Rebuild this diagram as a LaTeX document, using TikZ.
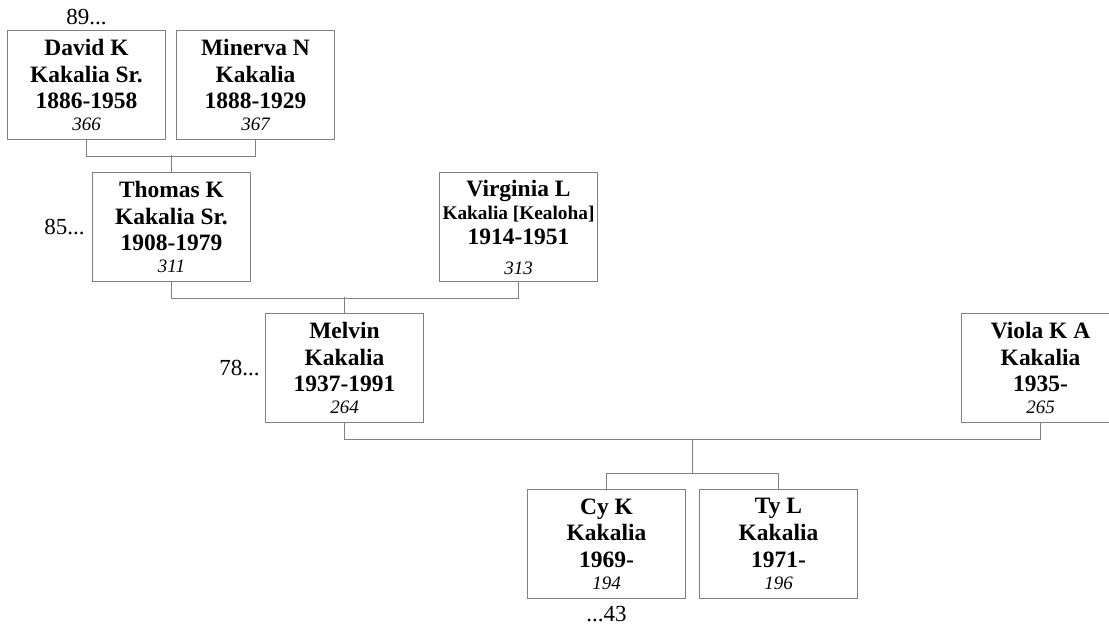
\documentclass[tikz,border=0pt]{standalone}
\usepackage{fontspec}
\setmainfont{Liberation Serif}
\usetikzlibrary{calc}

\definecolor{linegray}{RGB}{128,128,128}
\newcommand{\refno}[1]{{\mdseries\itshape\fontsize{14.25}{16}\selectfont #1}}

\tikzset{
  person/.style={rectangle, draw=linegray, line width=0.75pt, anchor=north west,
    minimum width=118.5pt, minimum height=81.75pt, inner sep=0pt, align=center,
    font=\bfseries\fontsize{17.6}{20}\selectfont},
  link/.style={draw=linegray, line width=0.75pt},
  more/.style={inner sep=0pt, font=\fontsize{17.25}{20}\selectfont}
}

\begin{document}
\begin{tikzpicture}[x=0.75pt, y=-0.75pt]
    \useasboundingbox (0,0) rectangle (1109,626);

    % 祖父母
    \node[person] (david) at (7,30) {David K\\Kakalia Sr.\\1886-1958\\[-3.5pt]\refno{366}};
    \node[person] (minerva) at (176,30) {Minerva N\\Kakalia\\1888-1929\\[-3.5pt]\refno{367}};

    % 父母
    \node[person] (thomas) at (92,172) {Thomas K\\Kakalia Sr.\\1908-1979\\[-3.5pt]\refno{311}};
    \node[person] (virginia) at (439,172) {Virginia L\\[-2.75pt]{\fontsize{14.5}{16}\selectfont Kakalia [Kealoha]}\\[-1.25pt]1914-1951\\[2.5pt]\refno{313}};

    % 本人与配偶
    \node[person] (melvin) at (265,313) {Melvin\\Kakalia\\1937-1991\\[-3.5pt]\refno{264}};
    \node[person] (viola) at (961,313) {Viola K A\\Kakalia\\1935-\\[-3.5pt]\refno{265}};

    % 子女
    \node[person] (cy) at (527,489) {Cy K\\Kakalia\\1969-\\[-3.5pt]\refno{194}};
    \node[person] (ty) at (699,489) {Ty L\\Kakalia\\1971-\\[-3.5pt]\refno{196}};

    % 页码
    \node[more, above=3.75pt] (pgdavid) at (david.north) {89...};
    \node[more, left=5.25pt] (pgthomas) at (thomas.west) {85...};
    \node[more, left=3.75pt] (pgmelvin) at (melvin.west) {78...};
    \node[more, below=5.25pt] (pgcy) at (cy.south) {...43};

    % 连线
    \draw[link] (david.south) -- ++(0,16) -| (minerva.south);
    \draw[link] (thomas.north) -- ++(0,-17);
    \draw[link] (thomas.south) -- ++(0,16) -| (virginia.south);
    \draw[link] (melvin.north) -- ++(0,-16);
    \draw[link] (melvin.south) -- ++(0,16) -| (viola.south);
    \coordinate (kids) at ($(melvin.south)!.5!(viola.south)+(0,16)$);
    \draw[link] (kids) -- ++(0,34) coordinate (kidbar);
    \draw[link] (cy.north) |- (kidbar) -| (ty.north);
\end{tikzpicture}
\end{document}
